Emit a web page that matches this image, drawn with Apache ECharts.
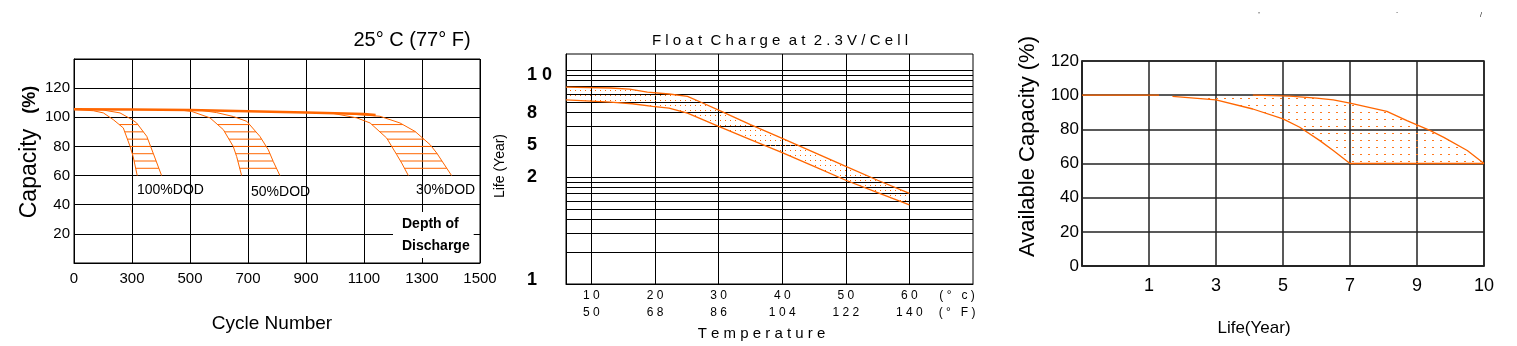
<!DOCTYPE html>
<html><head><meta charset="utf-8">
<script src="https://cdn.jsdelivr.net/npm/echarts@6/dist/echarts.min.js"></script>
<style>html,body{margin:0;padding:0;background:#fff}#c{width:1517px;height:346px}</style>
</head><body><div id="c"></div>
<script>
// ---------- Chart 1: Capacity vs Cycle Number (25°C) ----------
const cycleTicks = [0, 300, 500, 700, 900, 1100, 1300, 1500];
const cycleTickLabels = ['0', '300', '500', '700', '900', '1100', '1300', '1500'];
const topCapacity = [[0,105.5],[300,105.3],[500,105],[700,104.2],[900,103.3],[1100,102.3],[1140,101.6]];
const dod100Inner = [[0,105.3],[100,104.5],[152,103],[203,98.4],[255,92.7],[290,80],[304,73],[318,60]];
const dod100Outer = [[0,105.5],[150,105],[238,103],[300,98.4],[316,96.1],[351,86.9],[373,75.4],[402,60]];
const dod50Inner  = [[470,104.9],[506,104],[569,99.6],[615,91.5],[649,80],[661,73],[678,60]];
const dod50Outer  = [[540,104.7],[592,103.2],[650,100.5],[696,97.2],[741,86.9],[770,77.7],[787,69.7],[810,60]];
const dod30Inner  = [[990,102.8],[1075,99.6],[1121,96.1],[1178,85.8],[1213,74.3],[1230,68.6],[1253,60]];
const dod30Outer  = [[1040,102.4],[1155,100.7],[1224,96.1],[1276,90.3],[1328,81.2],[1351,75.4],[1402,60]];
const hatchLevels = [65, 70, 75, 80, 85, 90, 95];
const dodLabels = ['100%DOD', '50%DOD', '30%DOD'];

// ---------- Chart 2: Float life vs temperature (log grid units) ----------
const tempC = [10, 20, 30, 40, 50, 60];
const tempF = [50, 68, 86, 104, 122, 140];
const lifeUpperLog = [[6,1.841],[13,1.832],[16,1.822],[18.8,1.794],[22.2,1.776],[25.1,1.753],[27.5,1.692],[30,1.625],[35,1.49],[40,1.362],[45,1.23],[50,1.099],[55,0.97],[60,0.847]];
const lifeLowerLog = [[6,1.722],[13,1.701],[16.4,1.685],[19.6,1.66],[22.2,1.645],[25.1,1.598],[30,1.473],[35,1.35],[40,1.228],[45,1.1],[50,0.97],[55,0.855],[60,0.74]];
const lifeGridValues = [1,2,3,4,5,6,7,8,9,10,20,30,40,50,60,70,80,90,100];
const lifeLabels = ['1', '2', '5', '8', '1 0'];
const lifeLabelAt = [1.1, 10, 20, 40, 90];
const unitLabelAt = 67.5;

// ---------- Chart 3: Available capacity vs life ----------
const yearTicks = [0, 1, 3, 5, 7, 9, 10];
const yearTickLabels = ['', '1', '3', '5', '7', '9', '10'];
const availUpper = [[0,100],[1.3,100],null,[4.1,100],[5.2,99.4],[6,98.3],[6.5,97.2],[7,95.4],[8.1,90.5],[8.7,85.1],[9.2,79.2],[9.4,75.3],[9.75,67.6],[10,60]];
const availLower = [[1.7,99.3],[3,97.3],[4.1,91.9],[5,86.1],[5.5,81.2],[6.1,73.4],[6.5,67.6],[7,60],[10,60]];

// ---------- helpers ----------
const ORANGE = '#ff6600';
const SANS = '"Liberation Sans", Arial, sans-serif';

function toPos(ticks, v) {
  for (let i = 0; i < ticks.length - 1; i++) {
    if (v <= ticks[i + 1]) return i + (v - ticks[i]) / (ticks[i + 1] - ticks[i]);
  }
  return ticks.length - 1;
}
function mapPts(ticks, pts) { return pts.map(p => p ? [toPos(ticks, p[0]), p[1]] : null); }
function xAtLevel(pts, L) {
  for (let i = 0; i < pts.length - 1; i++) {
    const a = pts[i], b = pts[i + 1];
    if ((a[1] - L) * (b[1] - L) <= 0 && a[1] !== b[1]) return a[0] + (L - a[1]) / (b[1] - a[1]) * (b[0] - a[0]);
  }
  return null;
}
function spaced(s) { return String(s).split('').join(' '); }
function dotPattern(w, h, dw, dh, color) {
  const c = document.createElement('canvas');
  c.width = w; c.height = h;
  const ctx = c.getContext('2d');
  ctx.fillStyle = color;
  ctx.fillRect(0, 0, dw, dh);
  return { image: c, repeat: 'repeat' };
}
function lineS(data, gi, w) {
  return { type: 'line', xAxisIndex: gi, yAxisIndex: gi, data: data, showSymbol: false, symbol: 'none',
    connectNulls: false, silent: true, z: 4, lineStyle: { color: ORANGE, width: w || 1 } };
}
function hatchS(inner, outer, gi) {
  return { type: 'custom', xAxisIndex: gi, yAxisIndex: gi, silent: true, z: 3,
    data: hatchLevels.map(l => [inner[0][0], l]),
    renderItem: function (params, api) {
      const L = api.value(1);
      const x1 = xAtLevel(inner, L), x2 = xAtLevel(outer, L);
      if (x1 == null || x2 == null) return;
      const p1 = api.coord([x1, L]), p2 = api.coord([x2, L]);
      return { type: 'line', shape: { x1: p1[0], y1: p1[1], x2: p2[0], y2: p2[1] },
        style: { stroke: ORANGE, lineWidth: 1 } };
    } };
}
function bandS(upper, lower, gi, fill) {
  const up = upper.filter(p => p);
  return { type: 'custom', xAxisIndex: gi, yAxisIndex: gi, silent: true, z: 2,
    data: [up[0]],
    renderItem: function (params, api) {
      const pts = up.map(p => api.coord(p)).concat(lower.slice().reverse().map(p => api.coord(p)));
      return { type: 'polygon', shape: { points: pts }, style: { fill: fill, stroke: null } };
    } };
}

const c1 = { top: mapPts(cycleTicks, topCapacity),
  i100: mapPts(cycleTicks, dod100Inner), o100: mapPts(cycleTicks, dod100Outer),
  i50: mapPts(cycleTicks, dod50Inner), o50: mapPts(cycleTicks, dod50Outer),
  i30: mapPts(cycleTicks, dod30Inner), o30: mapPts(cycleTicks, dod30Outer) };
const c3up = mapPts(yearTicks, availUpper);
const c3lo = mapPts(yearTicks, availLower);
const c3band = c3up.filter(p => p && p[0] >= c3lo[0][0]);

const lifeLabelPos = lifeLabelAt.map(v => Math.log10(v));
function lifeLabelFor(v) {
  let best = 0;
  for (let i = 1; i < lifeLabelPos.length; i++) if (Math.abs(lifeLabelPos[i] - v) < Math.abs(lifeLabelPos[best] - v)) best = i;
  return lifeLabels[best];
}

const black = { color: '#000', width: 1 };
const grid = [
  { left: 74, top: 59, width: 406, height: 204, show: true, borderColor: '#000', borderWidth: 1, outerBoundsMode: 'none' },
  { left: 566, top: 54, width: 407, height: 230, show: true, borderColor: '#000', borderWidth: 1, outerBoundsMode: 'none' },
  { left: 1082, top: 61, width: 402, height: 205, show: true, borderColor: '#222', borderWidth: 1.5, outerBoundsMode: 'none' }
];

const option = {
  animation: false,
  backgroundColor: '#fff',
  grid: grid,
  xAxis: [
    { gridIndex: 0, type: 'value', min: 0, max: cycleTicks.length - 1, interval: 1,
      axisLine: { show: true, lineStyle: black }, axisTick: { show: false },
      splitLine: { show: true, lineStyle: black },
      axisLabel: { color: '#000', fontFamily: SANS, fontSize: 15, margin: 8, hideOverlap: false,
        formatter: v => cycleTickLabels[Math.round(v)] || '' },
      name: 'Cycle Number', nameLocation: 'middle', nameGap: 51,
      nameTextStyle: { color: '#000', fontFamily: SANS, fontSize: 19, padding: [0, 10, 0, 0] } },
    { gridIndex: 1, type: 'value', min: 6, max: 70,
      axisLine: { show: true, lineStyle: black },
      axisTick: { show: false, customValues: tempC },
      splitLine: { show: true, lineStyle: black },
      axisLabel: { color: '#000', fontFamily: SANS, fontSize: 12, lineHeight: 17, margin: 3, hideOverlap: false,
        customValues: tempC.concat([unitLabelAt]),
        formatter: function (v) {
          if (Math.abs(v - unitLabelAt) < 0.01) return '( °   c )\n( °   F )';
          const i = tempC.indexOf(Math.round(v));
          return i < 0 ? '' : spaced(tempC[i]) + '\n' + spaced(tempF[i]);
        } },
      name: 'T e m p e r a t u r e', nameLocation: 'middle', nameGap: 38,
      nameTextStyle: { color: '#000', fontFamily: SANS, fontSize: 15, padding: [0, 16, 0, 0] } },
    { gridIndex: 2, type: 'value', min: 0, max: yearTicks.length - 1, interval: 1,
      axisLine: { show: true, lineStyle: { color: '#222', width: 1.5 } }, axisTick: { show: false },
      splitLine: { show: true, lineStyle: { color: '#222', width: 1.5 } },
      axisLabel: { color: '#000', fontFamily: SANS, fontSize: 18, margin: 11, hideOverlap: false,
        formatter: v => yearTickLabels[Math.round(v)] || '' },
      name: 'Life(Year)', nameLocation: 'middle', nameGap: 54,
      nameTextStyle: { color: '#000', fontFamily: SANS, fontSize: 17, padding: [0, 58, 0, 0] } }
  ],
  yAxis: [
    { gridIndex: 0, type: 'value', min: 0, max: 140, interval: 20,
      axisLine: { show: true, lineStyle: black }, axisTick: { show: false },
      splitLine: { show: true, lineStyle: black },
      axisLabel: { color: '#000', fontFamily: SANS, fontSize: 15, margin: 4, hideOverlap: false,
        formatter: v => (v > 0 && v < 140) ? String(v) : '' },
      name: '{a|Capacity}{b|   (%)}', nameLocation: 'middle', nameGap: 31,
      nameTextStyle: { padding: [0, 0, 0, 18],
        rich: { a: { fontSize: 23, fontFamily: SANS, color: '#000' },
                b: { fontSize: 18, fontFamily: SANS, fontWeight: 'bold', color: '#000' } } } },
    { gridIndex: 1, type: 'value', min: 0, max: 2.15,
      axisLine: { show: true, lineStyle: black },
      axisTick: { show: false, customValues: lifeGridValues.map(v => Math.log10(v)) },
      splitLine: { show: true, lineStyle: black },
      axisLabel: { color: '#000', fontFamily: SANS, fontSize: 18, fontWeight: 'bold', align: 'left', margin: 39,
        hideOverlap: false, customValues: lifeLabelPos, formatter: v => lifeLabelFor(v) },
      name: 'Life (Year)', nameLocation: 'middle', nameGap: 59,
      nameTextStyle: { color: '#000', fontFamily: SANS, fontSize: 14, padding: [0, 0, 0, 6] } },
    { gridIndex: 2, type: 'value', min: 0, max: 120, interval: 20,
      axisLine: { show: true, lineStyle: { color: '#222', width: 1.5 } }, axisTick: { show: false },
      splitLine: { show: true, lineStyle: { color: '#222', width: 1.5 } },
      axisLabel: { color: '#000', fontFamily: SANS, fontSize: 17, margin: 3, hideOverlap: false },
      name: 'Available Capacity (%)', nameLocation: 'middle', nameGap: 43,
      nameTextStyle: { color: '#000', fontFamily: SANS, fontSize: 22, padding: [0, 0, 0, 34] } }
  ],
  series: [
    hatchS(c1.i100, c1.o100, 0), hatchS(c1.i50, c1.o50, 0), hatchS(c1.i30, c1.o30, 0),
    lineS(c1.i100, 0), lineS(c1.o100, 0), lineS(c1.i50, 0), lineS(c1.o50, 0),
    lineS(c1.i30, 0), lineS(c1.o30, 0), lineS(c1.top, 0, 2.5),
    bandS(lifeUpperLog, lifeLowerLog, 1, dotPattern(5, 5, 1, 1, '#ff6600')),
    lineS(lifeUpperLog, 1, 1.3), lineS(lifeLowerLog, 1, 1.3),
    bandS(c3band, c3lo, 2, dotPattern(8, 7, 2, 1, '#ff7a20')),
    lineS(c3up, 2, 1.3), lineS(c3lo, 2, 1.3)
  ],
  graphic: [
    { type: 'text', x: 412, y: 40, style: { text: '25° C (77° F)', fontFamily: SANS, fontSize: 20, fill: '#000', align: 'center', verticalAlign: 'middle' } },
    { type: 'text', x: 137, y: 190, style: { text: dodLabels[0], fontFamily: SANS, fontSize: 14, fill: '#000', align: 'left', verticalAlign: 'middle' } },
    { type: 'text', x: 251, y: 192, style: { text: dodLabels[1], fontFamily: SANS, fontSize: 14, fill: '#000', align: 'left', verticalAlign: 'middle' } },
    { type: 'text', x: 416, y: 190, style: { text: dodLabels[2], fontFamily: SANS, fontSize: 14, fill: '#000', align: 'left', verticalAlign: 'middle' } },
    { type: 'text', x: 393, y: 212, z: 100, style: { text: 'Depth of\nDischarge', fontFamily: SANS, fontSize: 14, fontWeight: 'bold', lineHeight: 22, fill: '#000', backgroundColor: '#fff', padding: [1, 4, 1, 9], align: 'left', verticalAlign: 'top' } },
    { type: 'text', x: 780, y: 41, style: { text: 'F l o a t  C h a r g e  a t  2 . 3 V / C e l l', fontFamily: SANS, fontSize: 15, fill: '#000', align: 'center', verticalAlign: 'middle' } },
    { type: 'text', x: 1259, y: 15, style: { text: "'", fontFamily: SANS, fontSize: 8, fill: '#000', align: 'center', verticalAlign: 'middle' } },
    { type: 'text', x: 1397, y: 15, style: { text: '`', fontFamily: SANS, fontSize: 8, fill: '#000', align: 'center', verticalAlign: 'middle' } },
    { type: 'text', x: 1481, y: 15, style: { text: '/', fontFamily: SANS, fontSize: 7, fill: '#000', align: 'center', verticalAlign: 'middle' } }
  ]
};
const chart = echarts.init(document.getElementById('c'), null, { renderer: 'canvas' });
chart.setOption(option);
</script>
</body></html>
